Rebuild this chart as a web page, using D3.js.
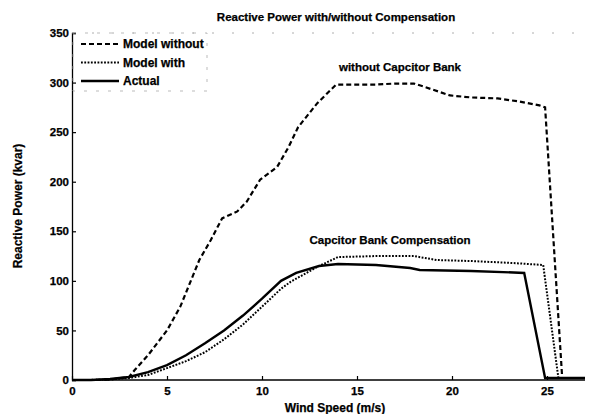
<!DOCTYPE html>
<html><head><meta charset="utf-8">
<script src="https://cdn.jsdelivr.net/npm/d3@7"></script>
<style>body{margin:0;background:#fff}svg{display:block}text{font-family:"Liberation Sans",Arial,sans-serif;font-weight:bold;fill:#000;stroke:#000;stroke-width:0.25px}</style>
</head><body><svg id="c" width="589" height="414"></svg>
<script>
const xTicks=[0,5,10,15,20,25];
const yTicks=[0,50,100,150,200,250,300,350];
const modelWithout=[[0,0],[1,0],[2,0.5],[3,3],[3.3,10],[4,25],[5,50],[5.7,74],[6.7,121],[7.3,141],[7.9,163],[8.7,170],[9.2,180],[9.9,202],[10.8,215],[11.4,235],[11.9,255],[12.9,279],[13.9,298],[15,298],[16,298],[17,299],[18,299],[18.5,296],[19.9,287],[21,285],[22.4,284],[23.5,281],[24.6,277],[24.9,275],[25.8,2],[27,2]];
const modelWith=[[0,0],[1,0],[2,0.5],[3,2],[4,5],[5,12],[6,19],[7,28],[8,41],[9,56],[10,74],[11,92],[11.5,99],[12.9,114],[14,124],[16,125],[18,125],[19.2,121],[21,120],[23.2,118],[24.8,116],[25.6,2],[27,2]];
const actual=[[0,0],[1,0],[2,1],[3,3],[4,8],[5,15],[6,25],[7,37],[8,50],[9,65],[10,82],[11,100],[11.8,108],[13,115],[14,117],[16,116],[17.8,113],[18.3,111],[21,110],[23.8,108],[24.9,2],[27,2]];
const series=[
 {name:"Model without",data:modelWithout,dash:"5,3",w:2.2},
 {name:"Model with",data:modelWith,dash:"1.8,1.5",w:2},
 {name:"Actual",data:actual,dash:null,w:2.4}];

const svg=d3.select("#c");
const x=d3.scaleLinear().domain([0,27]).range([72,585]);
const y=d3.scaleLinear().domain([0,350]).range([380,33]);

const gx=svg.append("g").attr("transform","translate(0,380)")
 .call(d3.axisBottom(x).tickValues(xTicks).tickSize(-4).tickPadding(7));
const gy=svg.append("g").attr("transform","translate(72,0)")
 .call(d3.axisLeft(y).tickValues(yTicks).tickSize(-4).tickPadding(3));
[gx,gy].forEach(g=>{g.select(".domain").attr("stroke","#000").attr("stroke-width",1.3);
 g.selectAll(".tick line").attr("stroke","#000").attr("stroke-width",1.2);
 g.selectAll("text").style("font-size","11.5px").style("font-weight","bold").attr("fill","#000");});
gx.select(".domain").attr("d","M72,0H585");

svg.append("line").attr("x1",72).attr("x2",585).attr("y1",33).attr("y2",33)
 .attr("stroke","#999").attr("stroke-width",0.8).attr("stroke-dasharray","2,18");

const line=d3.line().x(d=>x(d[0])).y(d=>y(d[1]));
series.forEach(s=>{
 svg.append("path").datum(s.data).attr("d",line).attr("fill","none")
  .attr("stroke","#000").attr("stroke-width",s.w).attr("stroke-dasharray",s.dash);
});

const lg=svg.append("g");
lg.append("rect").attr("x",73).attr("y",33).attr("width",134).attr("height",58)
 .attr("fill","none").attr("stroke","#aaa").attr("stroke-width",0.8).attr("stroke-dasharray","3,9");
series.forEach((s,i)=>{
 const yy=44+i*18.5;
 lg.append("line").attr("x1",81).attr("x2",119).attr("y1",yy).attr("y2",yy)
  .attr("stroke","#000").attr("stroke-width",s.w).attr("stroke-dasharray",s.dash);
 lg.append("text").attr("x",123).attr("y",yy+4).style("font-size","12px").text(s.name);
});

svg.append("text").attr("x",336).attr("y",21).attr("text-anchor","middle").style("font-size","11.5px")
 .text("Reactive Power with/without Compensation");
svg.append("text").attr("x",400).attr("y",71).attr("text-anchor","middle").style("font-size","11.5px")
 .text("without Capcitor Bank");
svg.append("text").attr("x",390).attr("y",244).attr("text-anchor","middle").style("font-size","11.5px")
 .text("Capcitor Bank Compensation");
svg.append("text").attr("x",335).attr("y",412).attr("text-anchor","middle").style("font-size","12px")
 .text("Wind Speed (m/s)");
svg.append("text").attr("transform","translate(22,206) rotate(-90)").attr("text-anchor","middle").style("font-size","12px")
 .text("Reactive Power (kvar)");
</script></body></html>
